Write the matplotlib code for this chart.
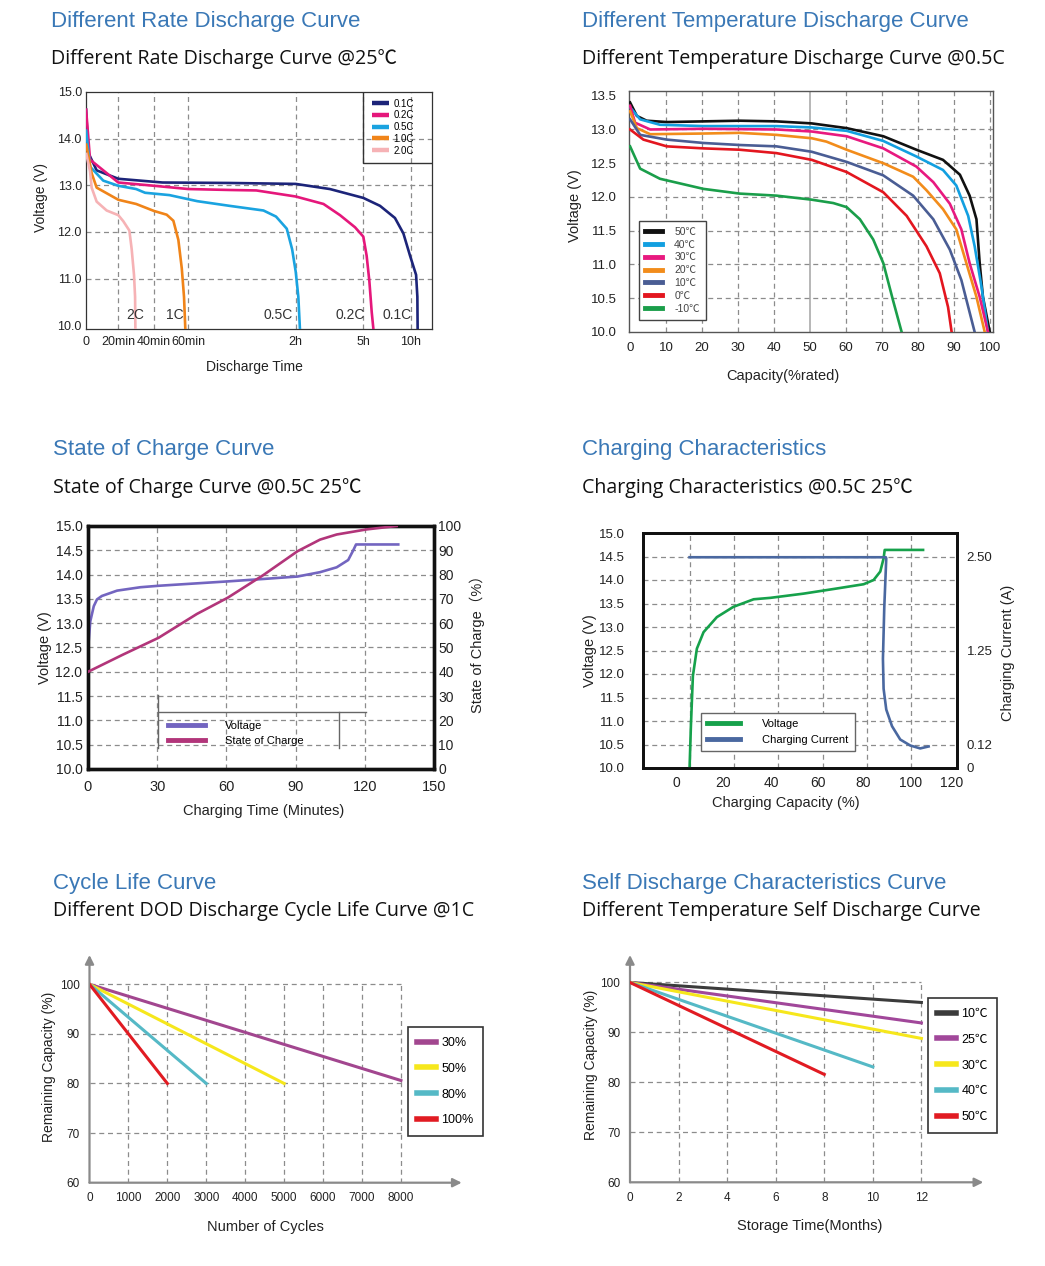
import numpy as np
import matplotlib
matplotlib.use('Agg')
import matplotlib.pyplot as plt
from matplotlib.font_manager import FontProperties

# ------------------------------------------------------------------ data
# Panel 1: different rate discharge (time in minutes, voltage V)
rate_labels = ['0.1C', '0.2C', '0.5C', '1.0C', '2.0C']
t_01 = [0, 1.4, 6.6, 20, 45, 83, 120, 211, 300, 405, 499, 552, 594, 632, 640, 642]
v_01 = [14.65, 13.7, 13.32, 13.14, 13.06, 13.05, 13.03, 12.92, 12.73, 12.56, 12.3, 11.97, 11.49, 11.08, 10.61, 9.8]
t_02 = [0, 2.5, 20, 40, 60, 83, 98, 120, 194, 238, 278, 300, 321, 338, 353, 367]
v_02 = [14.65, 13.55, 13.06, 12.99, 12.92, 12.9, 12.89, 12.76, 12.6, 12.36, 12.1, 11.9, 11.49, 10.95, 10.28, 9.8]
t_05 = [0, 2.5, 10.7, 20, 30, 35, 49, 65, 83, 102, 109, 115, 118, 120, 127, 132]
v_05 = [14.2, 13.4, 13.1, 12.99, 12.92, 12.84, 12.79, 12.66, 12.56, 12.46, 12.33, 12.07, 11.63, 11.15, 10.61, 9.8]
t_10 = [0, 3.5, 6.6, 20, 30, 40, 47.4, 51.3, 54.2, 56.2, 57.5, 58.4]
v_10 = [13.9, 13.26, 12.95, 12.69, 12.6, 12.45, 12.37, 12.24, 11.83, 11.22, 10.61, 9.8]
t_20 = [0, 2.5, 3.5, 6.6, 12.8, 20, 22.8, 26.2, 27.5, 28.8, 29.4, 29.6]
v_20 = [13.7, 13.3, 12.95, 12.65, 12.46, 12.36, 12.23, 12.03, 11.63, 11.08, 10.61, 9.8]
time_ticks = [0, 20, 40, 60, 120, 300, 600]
time_labels = ['0', '20min', '40min', '60min', '2h', '5h', '10h']
curve_tags = ['2C', '1C', '0.5C', '0.2C', '0.1C']
curve_tag_t = [29.4, 52, 110, 265, 512]

# Panel 2: different temperature discharge (capacity %, voltage V)
temp_labels = ['50℃', '40℃', '30℃', '20℃', '10℃', '0℃', '-10℃']
cap_50 = [0, 1.9, 4.6, 10.2, 30.5, 40.7, 50.5, 60.2, 70.4, 79.6, 87, 91.7, 94.4, 96.3, 97.2, 98.1, 100]
v_50 = [13.4, 13.2, 13.13, 13.11, 13.13, 13.12, 13.09, 13.02, 12.9, 12.7, 12.55, 12.33, 12.02, 11.67, 11.02, 10.52, 10.0]
cap_40 = [0, 2.8, 8.3, 20.4, 40.7, 50.5, 60.2, 70.4, 79.6, 87, 90.7, 94, 95.8, 97.7, 99.5]
v_40 = [13.33, 13.15, 13.07, 13.05, 13.05, 13.03, 12.98, 12.83, 12.6, 12.4, 12.17, 11.72, 11.27, 10.67, 10.0]
cap_30 = [0, 1.4, 5.6, 20.4, 40.7, 50.5, 60.2, 70.4, 79.6, 84.3, 88.9, 92.1, 94.4, 97.2, 99.5]
v_30 = [13.35, 13.1, 13.0, 13.01, 13.0, 12.97, 12.9, 12.72, 12.45, 12.22, 11.9, 11.52, 11.02, 10.52, 10.0]
cap_20 = [0, 1.9, 5.6, 20.4, 30.5, 40.7, 50.5, 54.6, 60.2, 70.4, 78.7, 82.4, 87, 90.7, 93.5, 96.3, 98.6]
v_20t = [13.27, 13.02, 12.93, 12.94, 12.95, 12.92, 12.87, 12.82, 12.7, 12.5, 12.3, 12.1, 11.82, 11.52, 11.02, 10.52, 10.0]
cap_10 = [0, 2.8, 10.2, 20.4, 30.5, 40.7, 50.5, 60.2, 70.4, 78.7, 84.3, 88.9, 92.1, 95.8]
v_10t = [13.15, 12.92, 12.85, 12.8, 12.77, 12.75, 12.67, 12.52, 12.32, 12.02, 11.67, 11.22, 10.77, 10.0]
cap_0 = [0, 3.7, 10.2, 20.4, 30.5, 40.7, 50.5, 60.2, 70.4, 76.9, 82.4, 86.1, 88.4, 89.4]
v_0 = [13.0, 12.85, 12.75, 12.72, 12.7, 12.65, 12.55, 12.37, 12.07, 11.72, 11.27, 10.87, 10.37, 10.0]
cap_m10 = [0, 2.8, 8.3, 20.4, 30.5, 40.7, 50.5, 56.5, 60.2, 63.9, 67.6, 70.4, 73.1, 75.5]
v_m10 = [12.75, 12.42, 12.27, 12.12, 12.05, 12.02, 11.96, 11.91, 11.85, 11.67, 11.37, 11.02, 10.47, 10.0]

# Panel 3: state of charge (minutes)
soc_t_v = [0, 1, 2.5, 3.9, 6, 12.6, 22.7, 30.6, 47.2, 60.6, 76, 90.8, 100.6, 107.8, 112.8, 115, 116.2, 134.5]
soc_volt = [12.45, 13.04, 13.35, 13.49, 13.56, 13.67, 13.74, 13.77, 13.82, 13.86, 13.91, 13.96, 14.05, 14.15, 14.3, 14.5, 14.62, 14.62]
soc_t_s = [0, 15, 30.6, 47.2, 60.6, 76, 90.8, 100.6, 107.8, 120.8, 133.8]
soc_pct = [40, 47, 54, 63.8, 70.5, 79.8, 89.6, 94.4, 96.5, 98.6, 100]

# Panel 4: charging characteristics (capacity %)
chg_cap_v = [0, 0.6, 1.5, 3.3, 6.3, 12.3, 19.8, 28.9, 36.4, 51.4, 66.5, 78.5, 83, 86, 87.5, 88, 105.3]
chg_volt = [10.0, 10.89, 11.96, 12.54, 12.89, 13.21, 13.43, 13.59, 13.62, 13.71, 13.82, 13.91, 14.0, 14.18, 14.46, 14.64, 14.64]
chg_cap_i = [0, 88.5, 88.7, 87.8, 87.2, 87.5, 88.7, 91.3, 95, 99.5, 104, 107.8]
chg_curr = [2.49, 2.49, 2.475, 1.82, 1.15, 0.79, 0.54, 0.34, 0.18, 0.115, 0.10, 0.11]
cur_ticks = [0, 0.12, 1.25, 2.5]
cur_tick_labels = ['0', '0.12', '1.25', '2.50']
cap_tick_labels = ['0', '20', '40', '60', '80', '100', '120']

# Panel 5: cycle life
dod_labels = ['30%', '50%', '80%', '100%']
cyc_30, rc_30 = [0, 8000], [100, 80.6]
cyc_50, rc_50 = [0, 5000], [100, 80]
cyc_80, rc_80 = [0, 3000], [100, 80]
cyc_100, rc_100 = [0, 2000], [100, 80]

# Panel 6: self discharge
sd_labels = ['10℃', '25℃', '30℃', '40℃', '50℃']
mon_10, sd_10 = [0, 12], [100, 96.0]
mon_25, sd_25 = [0, 12], [100, 91.9]
mon_30, sd_30 = [0, 12], [100, 88.8]
mon_40, sd_40 = [0, 10], [100, 83.1]
mon_50, sd_50 = [0, 8], [100, 81.6]

# ------------------------------------------------------------------ style
W, H = 1045, 1266
SANS = ['Liberation Sans', 'DejaVu Sans']
SUB = ['Open Sans', 'Noto Sans CJK SC', 'DejaVu Sans']
CJKF = ['Liberation Sans', 'Noto Sans CJK SC', 'DejaVu Sans']
plt.rcParams['font.family'] = SANS
TITLE_C = '#3a78b6'
GRID_C = '#8c8c8c'
DASH = (0, (4, 3))

fig = plt.figure(figsize=(W / 100, H / 100), dpi=100)
fig.patch.set_facecolor('white')


def add_ax(l, t, r, b):
    return fig.add_axes([l / W, 1 - b / H, (r - l) / W, (b - t) / H])


def ftext(x, y, s, **kw):
    kw.setdefault('va', 'center')
    kw.setdefault('ha', 'left')
    return fig.text(x / W, 1 - y / H, s, **kw)


def headings(x, y1, y2, title, sub):
    ftext(x, y1 + 2, title, color=TITLE_C, fontsize=16, family=SANS)
    ftext(x, y2 + 2, sub, color='#111111', fontsize=14.1, family=SUB)


def fp(size):
    return FontProperties(family=CJKF, size=size)


# ================================================================== Panel 1
headings(51, 20, 57, 'Different Rate Discharge Curve', 'Different Rate Discharge Curve @25℃')
ax1 = add_ax(86, 92, 432, 329)
pos_knots = [0, 32.3, 68, 102.3, 209.7, 277.3, 325, 346, 2000]
min_knots = [0, 20, 40, 60, 120, 300, 600, 732, 11100]
ax1.set_xscale('function', functions=(lambda m: np.interp(m, min_knots, pos_knots),
                                      lambda p: np.interp(p, pos_knots, min_knots)))
ax1.set_xlim(0, 732)
ax1.set_ylim(9.92, 15.0)
for t in time_ticks[1:]:
    ax1.axvline(t, color=GRID_C, ls=DASH, lw=0.9, zorder=1)
for v in [11, 12, 13, 14]:
    ax1.axhline(v, color=GRID_C, ls=DASH, lw=0.9, zorder=1)
rate_colors = ['#1c2479', '#e5177b', '#1aa3e0', '#f08419', '#f6b2b5']
series1 = [(t_01, v_01), (t_02, v_02), (t_05, v_05), (t_10, v_10), (t_20, v_20)]
for (tt, vv), c, lab in zip(series1, rate_colors, rate_labels):
    ax1.plot(tt, vv, color=c, lw=1.9, label=lab, zorder=3, solid_capstyle='butt')
for tag, tx in zip(curve_tags, curve_tag_t):
    ax1.text(tx, 10.22, tag, ha='center', va='center', fontsize=10, color='#333333')
ax1.set_xticks(time_ticks)
ax1.set_xticklabels(time_labels)
ax1.set_yticks([10, 11, 12, 13, 14, 15])
ax1.set_yticklabels(['10.0', '11.0', '12.0', '13.0', '14.0', '15.0'])
ax1.tick_params(length=0, labelsize=9, colors='#222222')
ax1.tick_params(axis='y', pad=3)
ax1.tick_params(axis='x', pad=5)
for s in ax1.spines.values():
    s.set_color('#333333')
    s.set_linewidth(0.9)
leg1 = ax1.legend(loc='upper left', bbox_to_anchor=(0.826, 0.972), prop=fp(7),
                  handlelength=1.75, handletextpad=0.5, labelspacing=0.18, borderpad=0,
                  frameon=False, borderaxespad=0)
for h in leg1.legend_handles:
    h.set_linewidth(3.2)
ax1.plot([0.8006, 0.8006, 1.0], [1.0, 0.700, 0.700], transform=ax1.transAxes,
         color='#333333', lw=1.0, zorder=4)
ftext(41, 198, 'Voltage (V)', rotation=90, ha='center', fontsize=10, color='#222222')
ftext(254, 367, 'Discharge Time', ha='center', fontsize=10, color='#222222')

# ================================================================== Panel 2
headings(582, 20, 57, 'Different Temperature Discharge Curve', 'Different Temperature Discharge Curve @0.5C')
ax2 = add_ax(629, 91, 993, 332)
ax2.set_xlim(-0.3, 100.9)
ax2.set_ylim(10.0, 13.57)
for x in [10, 20, 30, 40, 60, 70, 80, 90, 100]:
    ax2.axvline(x, color=GRID_C, ls=DASH, lw=0.9, zorder=1)
ax2.axvline(50, color='#aaaaaa', lw=1.2, zorder=1)
for v in [10.5, 11.0, 11.5, 12.0, 12.5, 13.0]:
    ax2.axhline(v, color=GRID_C, ls=DASH, lw=0.9, zorder=1)
temp_colors = ['#111111', '#129fe0', '#e8197f', '#f28c1b', '#4a5d94', '#e3161f', '#1a9e4a']
series2 = [(cap_50, v_50), (cap_40, v_40), (cap_30, v_30), (cap_20, v_20t),
           (cap_10, v_10t), (cap_0, v_0), (cap_m10, v_m10)]
for (xx, vv), c, lab in zip(series2, temp_colors, temp_labels):
    ax2.plot(xx, vv, color=c, lw=1.9, label=lab, zorder=3)
ax2.set_xticks(range(0, 101, 10))
ax2.set_yticks([10.0, 10.5, 11.0, 11.5, 12.0, 12.5, 13.0, 13.5])
ax2.set_yticklabels(['10.0', '10.5', '11.0', '11.5', '12.0', '12.5', '13.0', '13.5'])
ax2.tick_params(length=0, labelsize=9.5, colors='#222222')
ax2.tick_params(axis='y', pad=9)
ax2.tick_params(axis='x', pad=7)
for s in ax2.spines.values():
    s.set_color('#555555')
    s.set_linewidth(1.0)
leg2 = ax2.legend(loc='lower left', bbox_to_anchor=(0.027, 0.05), prop=fp(7.5),
                  handlelength=1.6, handletextpad=1.2, labelspacing=0.27, borderpad=0.6,
                  fancybox=False, edgecolor='#444444', framealpha=1, borderaxespad=0,
                  labelcolor='#444444')
for h in leg2.legend_handles:
    h.set_linewidth(3.5)
leg2.get_frame().set_linewidth(1.0)
ftext(575, 206, 'Voltage (V)', rotation=90, ha='center', fontsize=10.5, color='#222222')
ftext(783, 376, 'Capacity(%rated)', ha='center', fontsize=10.5, color='#222222')

# ================================================================== Panel 3
headings(53, 447, 486, 'State of Charge Curve', 'State of Charge Curve @0.5C 25℃')
ax3 = add_ax(88, 526, 434, 769)
ax3.set_xlim(0, 150)
ax3.set_ylim(10, 15)
for x in [30, 60, 90, 120]:
    ax3.axvline(x, color=GRID_C, ls=DASH, lw=0.9, zorder=1)
for v in np.arange(10.5, 14.6, 0.5):
    ax3.axhline(v, color=GRID_C, ls=DASH, lw=0.9, zorder=1)
ax3r = ax3.twinx()
ax3r.set_ylim(0, 100)
lv, = ax3.plot(soc_t_v, soc_volt, color='#7365c0', lw=1.9, zorder=3)
ls_, = ax3r.plot(soc_t_s, soc_pct, color='#b2357a', lw=1.9, zorder=3)
ax3.set_xticks([0, 30, 60, 90, 120, 150])
ax3.set_yticks(np.arange(10, 15.01, 0.5))
ax3.set_yticklabels(['%.1f' % v for v in np.arange(10, 15.01, 0.5)])
ax3r.set_yticks(range(0, 101, 10))
ax3.tick_params(length=0, labelsize=10, colors='#222222')
ax3.tick_params(axis='y', pad=4)
ax3.tick_params(axis='x', pad=8, labelsize=10.5)
ax3r.tick_params(length=0, labelsize=10, colors='#222222', pad=3)
for a in (ax3, ax3r):
    for s in a.spines.values():
        s.set_color('#111111')
        s.set_linewidth(2.4)
leg3 = ax3.legend([lv, ls_], ['Voltage', 'State of Charge'], loc='upper left',
                  bbox_to_anchor=(0.222, 0.212), prop=fp(8), handlelength=3.3,
                  handletextpad=1.8, labelspacing=0.5, borderpad=0.3, frameon=False,
                  borderaxespad=0)
for h in leg3.legend_handles:
    h.set_linewidth(3.5)
ax3.plot([0.202, 0.803], [0.235, 0.235], transform=ax3.transAxes, color='#666666', lw=1.0, zorder=4)
ax3.plot([0.202, 0.202], [0.305, 0.086], transform=ax3.transAxes, color='#666666', lw=1.0, zorder=4)
ax3.plot([0.725, 0.725], [0.235, 0.086], transform=ax3.transAxes, color='#666666', lw=1.0, zorder=4)
ftext(45, 648, 'Voltage (V)', rotation=90, ha='center', fontsize=10.5, color='#222222')
ftext(477, 641, 'State of Charge（%）', rotation=90, ha='center', fontsize=10.5,
      color='#222222', family=CJKF)
ftext(264, 811, 'Charging Time (Minutes)', ha='center', fontsize=10.5, color='#222222')

# ================================================================== Panel 4
headings(582, 447, 486, 'Charging Characteristics', 'Charging Characteristics @0.5C 25℃')
ax4 = add_ax(643, 533, 957, 768)
ax4.set_xlim(-21, 120.6)
ax4.set_ylim(10, 15)
for x in [0, 20, 40, 60, 80, 100]:
    ax4.axvline(x, color=GRID_C, ls=DASH, lw=0.9, zorder=1)
for v in np.arange(10.5, 14.6, 0.5):
    ax4.axhline(v, color=GRID_C, ls=DASH, lw=0.9, zorder=1)
ax4r = ax4.twinx()
cur_knots = [0, 0.12, 1.25, 2.5, 2.78]
pos4_knots = [0, 0.5, 2.5, 4.5, 5.0]
ax4r.set_yscale('function', functions=(lambda c: np.interp(c, cur_knots, pos4_knots),
                                       lambda p: np.interp(p, pos4_knots, cur_knots)))
ax4r.set_ylim(0, 2.78)
lg, = ax4.plot(chg_cap_v, chg_volt, color='#16a14b', lw=1.9, zorder=3)
lc, = ax4r.plot(chg_cap_i, chg_curr, color='#4a68a0', lw=1.9, zorder=3)
ax4.set_xticks([-6.0, 15.3, 37.1, 57.7, 78.2, 99.5, 118.3])
ax4.set_xticklabels(cap_tick_labels)
ax4.set_yticks(np.arange(10, 15.01, 0.5))
ax4.set_yticklabels(['%.1f' % v for v in np.arange(10, 15.01, 0.5)])
ax4r.set_yticks(cur_ticks)
ax4r.set_yticklabels(cur_tick_labels)
ax4.tick_params(length=0, labelsize=9.5, colors='#222222')
ax4.tick_params(axis='y', pad=13)
ax4.tick_params(axis='x', pad=6, labelsize=10)
ax4r.tick_params(length=0, labelsize=9.5, colors='#222222', pad=7)
for a in (ax4, ax4r):
    for s in a.spines.values():
        s.set_color('#111111')
        s.set_linewidth(2.0)
leg4 = ax4.legend([lg, lc], ['Voltage', 'Charging Current'], loc='upper left',
                  bbox_to_anchor=(0.184, 0.234), prop=fp(8), handlelength=3.0,
                  handletextpad=2.0, labelspacing=0.5, borderpad=0.55, fancybox=False,
                  edgecolor='#666666', framealpha=1, borderaxespad=0)
for h in leg4.legend_handles:
    h.set_linewidth(3.5)
leg4.get_frame().set_linewidth(1.0)
ftext(590, 651, 'Voltage (V)', rotation=90, ha='center', fontsize=10.5, color='#222222')
ftext(1008, 653, 'Charging Current (A)', rotation=90, ha='center', fontsize=10.5, color='#222222')
ftext(786, 803, 'Charging Capacity (%)', ha='center', fontsize=10.5, color='#222222')


# ================================================================== Panels 5 & 6
def arrow_axes(ax, xmax_grid, xgrid, ygrid):
    for s in ax.spines.values():
        s.set_visible(False)
    ac = '#8a8a8a'
    ax.annotate('', xy=(0, 1), xytext=(0, 0), xycoords='axes fraction',
                arrowprops=dict(arrowstyle='-|>', color=ac, lw=1.6, shrinkA=0, shrinkB=0,
                                mutation_scale=13))
    ax.annotate('', xy=(1, 0), xytext=(0, 0), xycoords='axes fraction',
                arrowprops=dict(arrowstyle='-|>', color=ac, lw=1.6, shrinkA=0, shrinkB=0,
                                mutation_scale=13))
    ax.hlines(ygrid, 0, xmax_grid, colors=GRID_C, linestyles=DASH, lw=0.9, zorder=1)
    ax.vlines(xgrid, 60, 100, colors=GRID_C, linestyles=DASH, lw=0.9, zorder=1)
    ax.set_yticks([60, 70, 80, 90, 100])
    ax.tick_params(length=0, labelsize=8.5, colors='#222222', pad=7)


headings(53, 881, 909, 'Cycle Life Curve', 'Different DOD Discharge Cycle Life Curve @1C')
ax5 = add_ax(89.5, 955, 461.7, 1182.7)
ax5.set_xlim(0, 9560)
ax5.set_ylim(60, 105.9)
arrow_axes(ax5, 8000, list(range(1000, 8001, 1000)), [70, 80, 90, 100])
ax5.set_xticks(range(0, 8001, 1000))
dod_colors = ['#a2468f', '#f6e71c', '#55b9c6', '#e11b22']
series5 = [(cyc_30, rc_30), (cyc_50, rc_50), (cyc_80, rc_80), (cyc_100, rc_100)]
for (xx, yy), c, lab in zip(series5, dod_colors, dod_labels):
    ax5.plot(xx, yy, color=c, lw=2.2, label=lab, zorder=3)
leg5 = ax5.legend(loc='upper left', bbox_to_anchor=(407.7 / W, 1 - 1027.3 / H),
                  bbox_transform=fig.transFigure, prop=fp(9), handlelength=1.5,
                  handletextpad=0.4, labelspacing=1.1, borderpad=0.78, fancybox=False,
                  edgecolor='#333333', framealpha=1, borderaxespad=0)
for h in leg5.legend_handles:
    h.set_linewidth(4)
leg5.get_frame().set_linewidth(1.2)
ftext(49, 1067, 'Remaining Capacity (%)', rotation=90, ha='center', fontsize=10, color='#222222')
ftext(265, 1227, 'Number of Cycles', ha='center', fontsize=10.5, color='#222222')

headings(582, 881, 909, 'Self Discharge Characteristics Curve', 'Different Temperature Self Discharge Curve')
ax6 = add_ax(630, 955, 983.3, 1182.3)
ax6.set_xlim(0, 14.55)
ax6.set_ylim(60, 105.5)
arrow_axes(ax6, 12, list(range(2, 13, 2)), [70, 80, 90, 100])
ax6.set_xticks(range(0, 13, 2))
sd_colors = ['#3b3b3b', '#a1479a', '#f6e71c', '#55b9c6', '#e11b22']
series6 = [(mon_10, sd_10), (mon_25, sd_25), (mon_30, sd_30), (mon_40, sd_40), (mon_50, sd_50)]
for (xx, yy), c, lab in zip(series6, sd_colors, sd_labels):
    ax6.plot(xx, yy, color=c, lw=2.2, label=lab, zorder=3)
leg6 = ax6.legend(loc='upper left', bbox_to_anchor=(927.7 / W, 1 - 998.3 / H),
                  bbox_transform=fig.transFigure, prop=fp(9), handlelength=1.5,
                  handletextpad=0.4, labelspacing=1.1, borderpad=0.78, fancybox=False,
                  edgecolor='#333333', framealpha=1, borderaxespad=0)
for h in leg6.legend_handles:
    h.set_linewidth(4)
leg6.get_frame().set_linewidth(1.2)
ftext(591, 1065, 'Remaining Capacity (%)', rotation=90, ha='center', fontsize=10, color='#222222')
ftext(810, 1226, 'Storage Time(Months)', ha='center', fontsize=10.5, color='#222222')

fig.savefig('out.png', dpi=100, facecolor='white')
